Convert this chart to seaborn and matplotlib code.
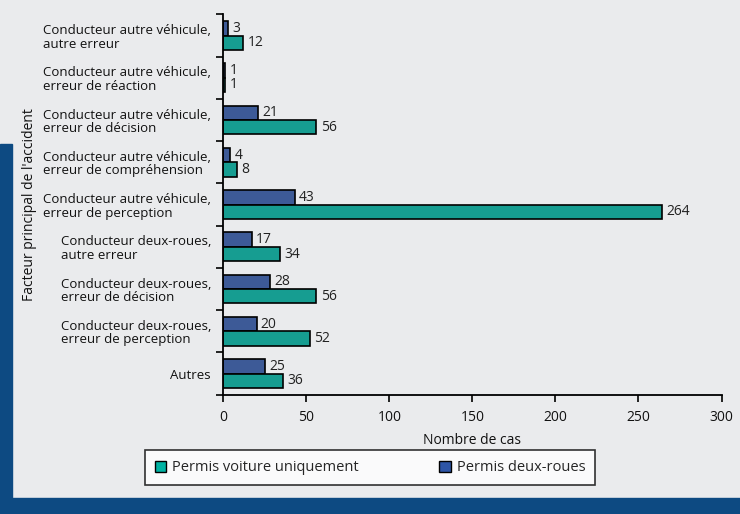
import pandas as pd
import numpy as np
import matplotlib.pyplot as plt
import seaborn as sns
from matplotlib.patches import Rectangle, Patch

# categories, top to bottom
categories = [
    "Conducteur autre véhicule,\nautre erreur",
    "Conducteur autre véhicule,\nerreur de réaction",
    "Conducteur autre véhicule,\nerreur de décision",
    "Conducteur autre véhicule,\nerreur de compréhension",
    "Conducteur autre véhicule,\nerreur de perception",
    "Conducteur deux-roues,\nautre erreur",
    "Conducteur deux-roues,\nerreur de décision",
    "Conducteur deux-roues,\nerreur de perception",
    "Autres",
]
permis_deux_roues = [3, 1, 21, 4, 43, 17, 28, 20, 25]
permis_voiture = [12, 1, 56, 8, 264, 34, 56, 52, 36]
x_ticks = [0, 50, 100, 150, 200, 250, 300]

s_deux = "Permis deux-roues"
s_voit = "Permis voiture uniquement"
col_deux = "#2E55A6"
col_voit = "#00B3A3"

df = pd.DataFrame({
    "facteur": categories * 2,
    "serie": [s_deux] * len(categories) + [s_voit] * len(categories),
    "cas": permis_deux_roues + permis_voiture,
})

sns.set_theme(style="white")
plt.rcParams['font.family'] = ['Open Sans', 'DejaVu Sans']

fig = plt.figure(figsize=(7.4, 5.14), dpi=100)
fig.patch.set_facecolor("#EAEBED")
ax = fig.add_axes([0.302, 0.232, 0.673, 0.74])
ax.set_facecolor("none")

# dark blue frame bits at left and bottom
fig.add_artist(Rectangle((0, 0), 1, 0.032, transform=fig.transFigure, color="#0D4A82", zorder=0))
fig.add_artist(Rectangle((0, 0), 0.016, 0.72, transform=fig.transFigure, color="#0D4A82", zorder=0))

sns.barplot(data=df, y="facteur", x="cas", hue="serie", orient="h",
            hue_order=[s_deux, s_voit], palette=[col_deux, col_voit],
            width=0.68, edgecolor="black", linewidth=1.2, ax=ax, legend=False)

for cont in ax.containers:
    ax.bar_label(cont, padding=3, fontsize=10, color="#222222")

ax.set_xlim(0, 300)
ax.set_xticks(x_ticks)
ax.set_ylim(len(categories) - 0.5, -0.5)
ax.set_yticks(range(len(categories)))
ax.set_yticklabels(categories, fontsize=9.5, linespacing=1.05, color="#111111")
ax.set_yticks(np.arange(-0.5, len(categories), 1), minor=True)
# block right aligned, lines inside left aligned
ax.tick_params(axis="y", which="major", length=0, pad=9)
for lab in ax.get_yticklabels():
    lab.set_multialignment("left")
ax.tick_params(axis="y", which="minor", length=5, width=1.2, color="black", direction="out", left=True)
ax.tick_params(axis="x", length=5, width=1.2, color="black", direction="out", bottom=True,
               labelsize=10, pad=6, labelcolor="#111111")
ax.set_xlabel("Nombre de cas", fontsize=10, labelpad=6, color="#111111")
ax.set_ylabel("Facteur principal de l'accident", fontsize=10, color="#111111")
ax.yaxis.set_label_coords(-0.375, 0.5)

for sp in ["top", "right"]:
    ax.spines[sp].set_visible(False)
for sp in ["left", "bottom"]:
    ax.spines[sp].set_color("black")
    ax.spines[sp].set_linewidth(1.3)

handles = [Patch(facecolor=col_voit, edgecolor="black", linewidth=1),
           Patch(facecolor=col_deux, edgecolor="black", linewidth=1)]
leg = fig.legend(handles, [s_voit, s_deux], loc="center", bbox_to_anchor=(0.5, 0.09),
                 ncol=2, frameon=True, fancybox=False, fontsize=10.5,
                 handlelength=0.8, handleheight=0.8, handletextpad=0.4,
                 columnspacing=5.5, borderpad=0.7)
leg.get_frame().set_edgecolor("black")
leg.get_frame().set_linewidth(1.2)
leg.get_frame().set_facecolor("white")

plt.savefig("out.png", dpi=100, facecolor=fig.get_facecolor())
